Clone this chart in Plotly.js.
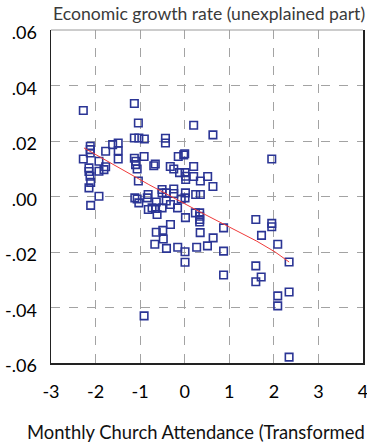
<!DOCTYPE html>
<html>
<head>
<meta charset="utf-8">
<script src="https://cdn.plot.ly/plotly-3.0.1.min.js"></script>
<style>html,body{margin:0;padding:0;background:#fff;}#chart{width:367px;height:442px;}</style>
</head>
<body>
<div id="chart"></div>
<script>
// Scatter points: church attendance (transformed) vs unexplained growth
const attendance = [
  -2.275,-2.119,-2.119,-2.119,-2.275,-1.774,-1.617,-1.492,-1.492,-1.492,
  -1.924,-1.774,-1.812,-1.924,-2.148,-2.148,-2.125,-2.110,-2.148,-1.924,
  -2.110,-1.130,-1.040,-1.130,-1.029,-0.906,-0.432,-0.432,0.201,0.633,
  -1.130,-1.096,-1.103,-1.067,-0.911,-0.694,-0.660,-0.324,-0.246,-0.145,
  -0.022,0.000,-0.116,0.007,0.022,0.022,0.201,0.201,0.351,0.515,
  0.633,-1.040,-1.119,-1.067,-1.029,-0.821,-0.839,-0.508,-0.508,-0.414,
  -0.246,-0.246,0.016,0.007,0.246,0.351,-0.638,-0.508,-0.414,-0.320,
  -0.655,-0.620,-0.732,-0.817,-0.161,-0.078,0.016,0.239,0.336,0.336,
  0.336,0.336,-0.320,1.595,1.953,1.953,0.872,1.723,0.638,0.347,
  -0.638,-0.492,-0.481,1.953,-0.671,-0.409,-0.157,0.007,0.007,0.268,
  0.510,0.872,0.872,1.595,1.595,1.716,2.087,2.342,2.342,2.087,
  2.087,-0.911,2.342
];
const growth = [
  0.0310,0.0181,0.0169,0.0157,0.0135,0.0163,0.0187,0.0193,0.0165,0.0135,
  0.0127,0.0107,0.0097,0.0091,0.0103,0.0090,0.0073,0.0051,0.0031,0.0001,
  -0.0032,0.0335,0.0265,0.0211,0.0211,0.0207,0.0210,0.0193,0.0257,0.0222,
  0.0138,0.0127,0.0115,0.0099,0.0144,0.0111,0.0117,0.0108,0.0099,0.0144,
  0.0150,0.0154,0.0086,0.0086,0.0073,0.0061,0.0108,0.0072,0.0056,0.0072,
  0.0036,0.0056,-0.0005,-0.0009,-0.0023,0.0007,-0.0005,0.0025,0.0013,0.0013,
  0.0027,0.0011,0.0013,-0.0005,0.0007,0.0007,-0.0020,-0.0041,-0.0016,-0.0029,
  -0.0043,-0.0065,-0.0041,-0.0047,-0.0041,-0.0009,-0.0076,-0.0059,-0.0059,-0.0071,
  -0.0083,-0.0092,-0.0101,-0.0083,-0.0097,-0.0109,-0.0113,-0.0140,-0.0149,-0.0130,
  -0.0129,-0.0122,-0.0153,0.0135,-0.0172,-0.0187,-0.0183,-0.0199,-0.0237,-0.0183,
  -0.0178,-0.0197,-0.0283,-0.0250,-0.0307,-0.0290,-0.0172,-0.0236,-0.0344,-0.0358,
  -0.0394,-0.0430,-0.0579
];
// Fitted (smoothed) line
const fitX = [-2.260, -0.805, 0.313, 1.617, 2.029, 2.342];
const fitY = [0.0175, 0.0043, -0.0053, -0.0161, -0.0200, -0.0236];

const xTickVals = [-3,-2,-1,0,1,2,3,4];
const xTickText = ['-3','-2','-1','0','1','2','3','4'];
const yTickVals = [-0.06,-0.04,-0.02,0,0.02,0.04,0.06];
const yTickText = ['-.06','-.04','-.02','.00','.02','.04','.06'];

const yTitle = 'Economic growth rate (unexplained part)';
// as visible in the reference (its closing bracket falls outside the picture)
const xTitle = 'Monthly Church Attendance (Transformed';

const FONT = 'Lato, "Open Sans", sans-serif';

const traces = [
  {
    x: attendance, y: growth, type: 'scatter', mode: 'markers',
    marker: {symbol: 'square-open', size: 7.5, color: '#2b3595', line: {width: 1.6, color: '#2b3595'}},
    hoverinfo: 'skip'
  },
  {
    x: fitX, y: fitY, type: 'scatter', mode: 'lines',
    line: {color: '#f03a3a', width: 1},
    hoverinfo: 'skip'
  }
];

const layout = {
  width: 367, height: 442,
  margin: {l: 51, r: 4, t: 30, b: 79},
  paper_bgcolor: '#fff', plot_bgcolor: '#fff',
  showlegend: false,
  font: {family: FONT, color: '#000', size: 17},
  xaxis: {
    range: [-3, 4], tickvals: xTickVals, ticktext: xTickText,
    showgrid: true, gridcolor: '#a3a3a3', gridwidth: 1, griddash: 'dash',
    zeroline: false, showline: true, linecolor: '#222', linewidth: 1.5, mirror: false,
    ticks: '', ticklabelstandoff: 12, ticklabeloverflow: 'allow',
    tickfont: {family: FONT, size: 18, color: '#000'}
  },
  yaxis: {
    range: [-0.06, 0.06], tickvals: yTickVals, ticktext: yTickText,
    showgrid: true, gridcolor: '#a3a3a3', gridwidth: 1, griddash: 'dash',
    zeroline: false, showline: true, linecolor: '#222', linewidth: 1.5, mirror: true,
    ticks: '', ticklabelstandoff: 9, ticklabelshift: 3, ticklabeloverflow: 'allow',
    tickfont: {family: FONT, size: 18, color: '#000'}
  },
  shapes: [
    {type: 'line', xref: 'paper', yref: 'paper', x0: 0, x1: 1, y0: 1, y1: 1,
     line: {color: '#9a9a9a', width: 1}}
  ],
  annotations: [
    {text: yTitle, xref: 'paper', yref: 'paper', x: 0.0, y: 1, xanchor: 'left', yanchor: 'bottom',
     yshift: 4, showarrow: false, font: {family: FONT, size: 17.6, color: '#3a3a3a'}},
    {text: xTitle, xref: 'paper', yref: 'paper', x: -0.083, y: -0.207, xanchor: 'left', yanchor: 'middle',
     showarrow: false, font: {family: FONT, size: 18.4, color: '#111'}}
  ]
};

Plotly.newPlot('chart', traces, layout, {staticPlot: true, displayModeBar: false});
</script>
</body>
</html>
